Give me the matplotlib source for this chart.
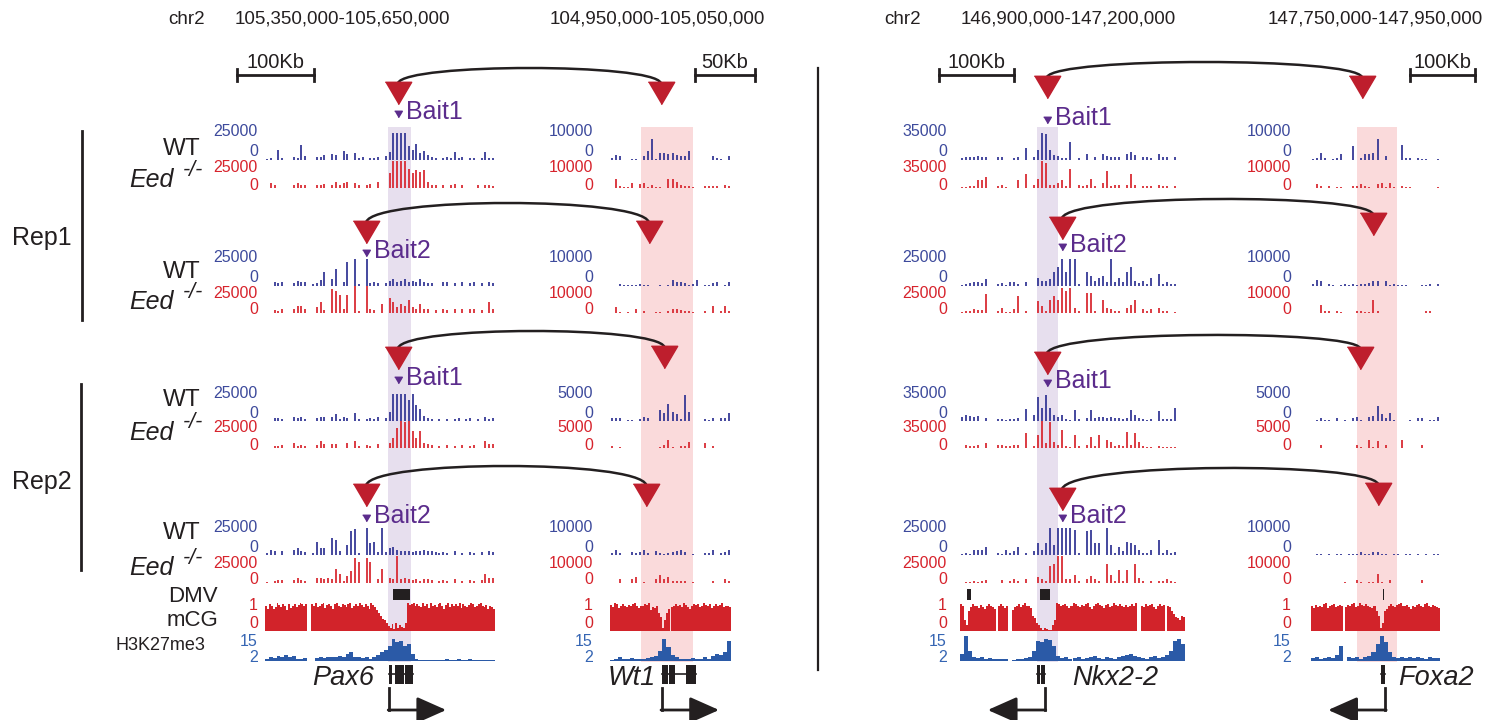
import numpy as np
import matplotlib.pyplot as plt
import matplotlib.transforms as mtransforms
from matplotlib.path import Path
from matplotlib.patches import PathPatch, Rectangle

plt.rcParams["font.family"] = ["Liberation Sans", "DejaVu Sans"]

W, H = 1506, 720

# genomic windows (kb, chr2)
win_pax6 = (105350, 105650)
win_wt1 = (104950, 105050)
win_nkx = (146900, 147200)
win_foxa = (147750, 147950)

# virtual 4C signal, % of the track range (bins across each window)
wt_pax6_r1b1 = [2,6,0,36,6,0,0,10,6,55, 13,0,0,10,10,19,0,23,19,0, 32,23,0,26,6,10,0,6,6,10,
                0,13,28,100,100,100,100,51,36,58, 26,32,19,10,6,0,6,10,6,28, 6,10,0,6,6,0,6,28,6,6]
eed_pax6_r1b1 = [0,18,12,0,0,0,0,10,18,12, 10,0,0,10,12,14,0,12,22,10, 18,22,0,18,10,0,10,14,0,24,
                 0,0,54,100,100,100,100,72,54,66, 60,66,24,12,12,0,10,0,10,14, 0,12,0,0,0,10,0,10,12,6]
wt_pax6_r1b2 = [0,0,15,10,13,0,0,10,19,15, 13,0,6,10,23,50,0,25,63,0, 13,88,0,100,6,0,100,10,13,10,
                0,10,19,25,15,19,25,15,19,13, 25,15,10,10,0,0,13,15,0,10, 0,13,0,10,13,0,10,0,15,10]
eed_pax6_r1b2 = [0,0,11,7,16,0,0,14,27,25, 16,0,0,21,41,11,0,89,82,68, 14,68,0,100,7,0,99,14,11,0,
                 34,0,55,41,21,34,27,48,21,16, 34,14,16,0,11,0,16,11,0,16, 0,14,0,16,14,0,11,0,41,16]
wt_pax6_r2b1 = [0,0,10,10,6,0,0,13,10,13, 6,0,0,10,13,13,0,15,26,6, 13,10,0,28,6,0,6,10,6,13,
                0,10,32,100,100,100,100,77,100,58, 45,19,10,6,0,6,0,6,0,6, 10,0,6,10,0,6,0,13,6,10]
eed_pax6_r2b1 = [0,0,6,6,10,0,0,19,6,10, 6,0,0,10,25,15,0,13,15,0, 0,19,0,25,6,0,10,6,0,13,
                 0,0,19,38,75,100,98,100,63,38, 63,19,13,10,0,6,0,10,0,6, 0,10,0,6,10,0,0,25,13,13]
wt_pax6_r2b2 = [6,19,15,0,13,0,0,19,25,13, 10,0,6,50,25,25,0,63,56,13, 0,38,88,98,6,0,100,44,50,10,
                100,10,25,31,19,13,15,13,10,13, 15,19,15,13,10,6,10,6,0,13, 0,6,0,10,6,0,10,0,13,10]
eed_pax6_r2b2 = [4,0,6,10,10,0,0,10,19,10, 6,0,0,19,19,13,19,13,52,32, 6,26,45,91,78,0,91,78,0,13,
                 52,0,19,13,100,13,19,13,10,13, 6,13,13,10,0,6,10,6,0,13, 0,6,0,10,6,0,10,32,19,19]

wt_wt1_r1b1 = [9,19,16,0,0,5,5,0,16,32, 78,5,27,27,22,27,19,16,13,32, 0,0,0,0,0,16,9,5,0,13]
eed_wt1_r1b1 = [0,34,6,3,3,17,0,14,17,3, 11,3,3,0,34,34,23,11,9,6, 3,0,0,9,9,6,6,0,11,6]
wt_wt1_r1b2 = [0,0,8,5,3,3,5,8,5,5, 0,0,3,0,5,21,16,13,11,5, 8,21,0,5,5,11,16,0,5,13]
eed_wt1_r1b2 = [0,21,4,0,4,0,16,0,7,0, 0,4,4,0,7,14,16,11,7,7, 4,0,0,7,0,25,0,7,25,7]
wt_wt1_r2b1 = [12,12,12,0,3,3,0,9,14,12, 0,0,41,29,64,35,25,6,95,35, 0,0,0,6,3,12,0,12,12,29]
eed_wt1_r2b1 = [6,0,4,0,0,0,0,0,0,0, 0,0,4,10,28,4,0,6,6,23, 0,0,0,19,0,6,0,0,0,0]
wt_wt1_r2b2 = [6,18,6,0,0,12,9,12,18,6, 0,14,6,4,6,12,14,18,12,0, 4,0,0,9,9,18,0,6,12,18]
eed_wt1_r2b2 = [0,0,15,0,0,15,23,0,4,0, 0,13,28,13,23,6,6,6,6,0, 4,0,0,0,0,6,0,0,15,6]

wt_nkx_r1b1 = [6,10,10,12,14,12,12,0,0,10, 12,0,0,6,10,0,45,0,12,36, 100,95,36,18,14,6,6,65,0,6,
               0,24,0,12,0,21,14,10,12,12, 0,24,30,18,0,10,10,6,0,24, 10,10,0,12,0,0]
eed_nkx_r1b1 = [3,3,6,6,29,29,40,0,0,6, 11,3,0,0,29,0,52,0,11,34, 100,92,11,11,17,29,6,71,0,11,
                6,11,34,6,0,17,63,9,11,11, 0,11,52,11,0,6,6,6,0,11, 6,6,0,6,0,0]
wt_nkx_r1b2 = [4,6,10,13,15,10,25,0,0,6, 10,4,15,15,6,0,15,0,0,31, 19,19,25,50,69,100,50,100,100,6,
               0,50,38,19,31,38,13,100,15,31, 13,50,69,19,10,19,6,31,0,44, 6,13,6,6,0,0]
eed_nkx_r1b2 = [4,6,6,13,10,10,69,0,0,6, 19,4,4,13,63,0,6,0,0,44, 25,6,50,63,50,94,81,94,19,6,
                0,75,75,6,0,50,19,13,6,6, 0,19,31,50,0,13,6,13,0,19, 6,6,0,4,0,0]
wt_nkx_r2b1 = [14,22,18,14,18,0,12,0,0,6, 6,4,6,6,12,0,46,0,24,90, 48,96,48,24,14,24,6,4,42,6,
               0,12,42,12,14,14,12,14,10,10, 6,12,42,24,12,6,4,6,0,36, 6,6,6,48,0,0]
eed_nkx_r2b1 = [0,10,6,6,10,0,18,0,0,10, 12,6,6,10,12,0,54,0,6,48, 100,18,96,24,10,66,6,4,48,6,
                0,12,42,6,48,0,30,24,6,12, 6,60,12,54,24,6,4,4,0,6, 4,4,4,4,0,0]
wt_nkx_r2b2 = [4,6,4,19,19,19,31,0,0,6, 4,19,6,13,31,0,6,0,15,44, 19,44,100,38,100,100,100,100,94,6,
               0,88,94,44,44,0,100,38,6,31, 13,50,44,38,19,6,6,19,0,56, 6,19,6,10,0,0]
eed_nkx_r2b2 = [0,4,4,6,4,6,10,0,0,0, 10,0,6,13,6,0,13,0,0,23, 13,6,63,69,100,100,13,13,31,6,
                0,13,25,13,6,0,69,31,6,50, 6,50,0,69,19,6,0,6,0,6, 6,13,6,4,0,0]

wt_foxa_r1b1 = [4,7,27,7,0,4,7,21,0,0, 52,0,7,21,21,27,79,0,14,0, 0,0,55,7,7,0,7,4,4,0, 0,4]
eed_foxa_r1b1 = [0,13,8,0,8,0,5,5,0,0, 8,8,13,8,5,0,13,17,5,17, 5,0,8,5,5,0,0,0,0,0, 0,5]
wt_foxa_r1b2 = [6,23,17,0,6,3,0,3,6,3, 6,3,6,9,11,17,17,0,17,3, 6,3,3,3,0,0,0,3,3,6, 0,9]
eed_foxa_r1b2 = [0,0,30,8,8,0,8,5,0,0, 0,8,8,5,5,47,8,0,0,0, 0,0,0,0,0,0,0,0,8,8, 0,0]
wt_foxa_r2b1 = [0,5,10,5,5,0,10,0,5,0, 10,15,5,0,15,20,55,25,10,30, 5,0,0,0,5,0,10,10,0,5, 5,15]
eed_foxa_r2b1 = [0,0,10,0,0,0,0,0,0,0, 0,10,5,0,30,5,25,0,10,0, 0,0,30,0,0,0,0,10,0,0, 0,0]
wt_foxa_r2b2 = [0,5,5,0,5,0,5,5,0,5, 5,5,10,5,5,10,10,5,5,0, 5,5,0,5,5,0,5,0,5,0, 5,5]
eed_foxa_r2b2 = [0,0,0,0,0,0,0,0,5,0, 0,10,5,0,5,5,35,5,0,10, 0,0,0,0,0,0,0,10,0,0, 0,0]

# CpG methylation (%) and H3K27me3 (% of 2-15 range)
mcg_pax6 = [88,80,95,90,78,85,100,92,85,95, 88,75,95,82,90,98,86,92,100,95,
            90,95,0,0,95,88,100,84,90,95, 100,82,92,96,88,80,95,100,90,85,
            98,92,86,95,100,82,90,96,88,100, 92,85,95,88,80,100,92,86,75,65,
            55,42,40,30,18,12,25,8,30,10, 20,15,10,28,100,92,95,100,88,96,
            90,84,100,88,95,82,100,90,92,86, 95,100,88,80,92,100,86,95,90,98,
            88,100,82,95,90,86,92,100,95,84, 88,96,100,90,86,92,80,90,85,78]
h3_pax6 = [10,15,12,20,15,25,15,20,10,8, 12,0,0,12,15,12,15,18,15,20, 18,30,35,15,18,12,15,10,15,25,
           35,45,60,90,75,80,60,70,30,8, 5,6,5,5,6,5,5,8,5,5, 10,5,5,8,5,5,6,5,5,5]
mcg_wt1 = [92,85,100,95,82,90,96,88,85,92, 90,95,100,88,82,90,88,95,92,100,
           75,85,82,90,65,50,12,40,65,78, 85,90,95,88,92,86,100,92,85,80,
           90,95,92,98,85,90,100,92,88,95, 82,90,95,88,92,100,85,88,90,86]
h3_wt1 = [5,10,15,8,10,12,8,10,10,12, 15,20,40,90,55,25,15,10,8,10, 12,10,8,15,10,20,30,25,35,80]
mcg_nkx = [95,88,40,20,70,85,95,90,88,82, 92,85,80,90,95,88,86,80,0,90,
           95,88,82,90,0,0,75,85,90,95, 85,92,100,90,88,82,55,45,30,20,
           10,5,12,8,5,3,20,40,100,95, 88,92,98,90,82,88,100,95,90,85,
           92,88,96,100,85,80,90,95,100,92, 88,82,92,96,85,90,100,92,88,95,
           90,86,92,84,88,95,90,100,0,0, 90,85,95,88,92,96,85,80,90,95,
           88,92,0,90,85,70,60,50,45,40, 55,50]
h3_nkx = [30,100,40,15,12,15,10,12,10,8, 10,8,0,5,8,10,12,15,40,80, 75,90,85,60,20,12,15,10,12,15,
          10,12,15,20,12,10,15,12,10,15, 20,25,30,20,15,12,10,15,20,12, 15,25,40,80,90,70]
mcg_foxa = [88,82,92,86,90,85,95,100,82,88, 92,96,85,90,92,88,0,85,92,88,
            95,100,85,90,100,92,88,95,90,85, 82,88,70,55,10,30,70,80,88,95,
            90,85,92,96,100,90,88,92,85,80, 90,86,92,95,88,84,95,100,90,86,
            92,88,85,82]
h3_foxa = [12,15,10,12,15,12,25,60,0,15, 12,15,10,18,20,35,70,100,75,35, 15,12,15,12,18,12,15,12,10,15, 12,12]

# track scale maxima per block (Rep1-Bait1, Rep1-Bait2, Rep2-Bait1, Rep2-Bait2)
max_pax6 = ["25000", "25000", "25000", "25000"]
max_wt1 = ["10000", "10000", "5000", "10000"]
max_nkx = ["35000", "25000", "35000", "25000"]
max_foxa = ["10000", "10000", "5000", "10000"]

# highlighted windows, DMVs and genes (kb)
band_pax6 = (105510, 105540)
band_wt1 = (104976, 105019)
band_nkx = (147002, 147031)
band_foxa = (147821, 147883)
dmv_pax6 = [(105517, 105539)]
dmv_nkx = [(146909, 146915), (147007, 147020)]
dmv_foxa = [(147861, 147863)]
exons_pax6 = [(105512, 105515), (105520, 105531), (105532, 105543)]
exons_wt1 = [(104993, 104998), (104999, 105004), (105013, 105021)]
exons_nkx = [(147003, 147007), (147008, 147013)]
exons_foxa = [(147858, 147864)]

# bait and target anchors per block (kb)
bait_left = [105523.5, 105482, 105523.5, 105482]
target_left = [104992, 104982, 104995, 104980]
bait_right = [147016, 147036, 147016, 147036]
target_right = [147829, 147846, 147826, 147854]
bait_names = ["Bait1", "Bait2", "Bait1", "Bait2"]

C_WT = "#2e3192"
C_WT_TXT = "#3d4a9c"
C_EED = "#d7232c"
C_MCG = "#d2232a"
C_H3 = "#2b5aa7"
C_H3_TXT = "#3565b3"
C_BAIT = "#5b2c8c"
C_TRI = "#be1e2d"
C_PURPLE = "#e7dfee"
C_PINK = "#fadadb"
C_INK = "#231f20"

fig = plt.figure(figsize=(W / 100, H / 100), dpi=100)
ov = fig.add_axes([0, 0, 1, 1], zorder=0)
ov.set_xlim(0, W)
ov.set_ylim(H, 0)
ov.axis("off")

wt_base = [160, 286, 421, 555]
eed_base = [188, 313, 448, 583]
TRACK_H = 27


def track_ax(x0, x1, base, h, win):
    ax = fig.add_axes([x0 / W, 1 - base / H, (x1 - x0) / W, h / H], zorder=2)
    ax.set_xlim(*win)
    ax.set_ylim(0, 100)
    ax.axis("off")
    return ax


def bin_centers(win, n):
    edges = np.linspace(win[0], win[1], n + 1)
    return (edges[:-1] + edges[1:]) / 2, (win[1] - win[0]) / n


def spikes(ax, win, vals, color):
    x, _ = bin_centers(win, len(vals))
    v = np.array(vals, dtype=float)
    keep = v > 0
    ax.vlines(x[keep], 0, v[keep], color=color, lw=1.25)


def filled(ax, win, vals, color):
    x, w = bin_centers(win, len(vals))
    ax.bar(x, vals, width=w, color=color, linewidth=0)


columns = [
    dict(win=win_pax6, x0=265, x1=495, lab=258, maxes=max_pax6,
         wt=[wt_pax6_r1b1, wt_pax6_r1b2, wt_pax6_r2b1, wt_pax6_r2b2],
         eed=[eed_pax6_r1b1, eed_pax6_r1b2, eed_pax6_r2b1, eed_pax6_r2b2],
         mcg=mcg_pax6, h3=h3_pax6, band=band_pax6, bc=C_PURPLE, dmv=dmv_pax6),
    dict(win=win_wt1, x0=610, x1=731, lab=593, maxes=max_wt1,
         wt=[wt_wt1_r1b1, wt_wt1_r1b2, wt_wt1_r2b1, wt_wt1_r2b2],
         eed=[eed_wt1_r1b1, eed_wt1_r1b2, eed_wt1_r2b1, eed_wt1_r2b2],
         mcg=mcg_wt1, h3=h3_wt1, band=band_wt1, bc=C_PINK, dmv=[]),
    dict(win=win_nkx, x0=960, x1=1185, lab=947, maxes=max_nkx,
         wt=[wt_nkx_r1b1, wt_nkx_r1b2, wt_nkx_r2b1, wt_nkx_r2b2],
         eed=[eed_nkx_r1b1, eed_nkx_r1b2, eed_nkx_r2b1, eed_nkx_r2b2],
         mcg=mcg_nkx, h3=h3_nkx, band=band_nkx, bc=C_PURPLE, dmv=dmv_nkx),
    dict(win=win_foxa, x0=1311, x1=1440, lab=1291, maxes=max_foxa,
         wt=[wt_foxa_r1b1, wt_foxa_r1b2, wt_foxa_r2b1, wt_foxa_r2b2],
         eed=[eed_foxa_r1b1, eed_foxa_r1b2, eed_foxa_r2b1, eed_foxa_r2b2],
         mcg=mcg_foxa, h3=h3_foxa, band=band_foxa, bc=C_PINK, dmv=dmv_foxa),
]

num_fs = 11.5
for col in columns:
    win = col["win"]
    for i in range(4):
        a = track_ax(col["x0"], col["x1"], wt_base[i], TRACK_H, win)
        spikes(a, win, col["wt"][i], C_WT)
        b = track_ax(col["x0"], col["x1"], eed_base[i], TRACK_H, win)
        spikes(b, win, col["eed"][i], C_EED)
        lx = col["lab"]
        ov.text(lx, wt_base[i] - 28, col["maxes"][i], color=C_WT_TXT, fontsize=num_fs, ha="right", va="center")
        ov.text(lx, wt_base[i] - 8, "0", color=C_WT_TXT, fontsize=num_fs, ha="right", va="center")
        ov.text(lx, eed_base[i] - 20, col["maxes"][i], color=C_EED, fontsize=num_fs, ha="right", va="center")
        ov.text(lx, eed_base[i] - 3, "0", color=C_EED, fontsize=num_fs, ha="right", va="center")
    m = track_ax(col["x0"], col["x1"], 631, 28, win)
    filled(m, win, col["mcg"], C_MCG)
    h = track_ax(col["x0"], col["x1"], 661, 25, win)
    filled(h, win, col["h3"], C_H3)
    col["ax"] = m
    col["bt"] = mtransforms.blended_transform_factory(m.transData, ov.transData)
    lx = col["lab"]
    ov.text(lx, 605, "1", color=C_MCG, fontsize=num_fs, ha="right", va="center")
    ov.text(lx, 624, "0", color=C_MCG, fontsize=num_fs, ha="right", va="center")
    ov.text(lx, 641, "15", color=C_H3_TXT, fontsize=num_fs, ha="right", va="center")
    ov.text(lx, 658, "2", color=C_H3_TXT, fontsize=num_fs, ha="right", va="center")
    # highlight band
    b0, b1 = col["band"]
    ov.add_patch(Rectangle((b0, 127), b1 - b0, 662 - 127, transform=col["bt"],
                           facecolor=col["bc"], edgecolor="none", zorder=0))
    for d0, d1 in col["dmv"]:
        ov.add_patch(Rectangle((d0, 589), d1 - d0, 11, transform=col["bt"],
                               facecolor=C_INK, edgecolor="none", zorder=3))


def to_px(ax, kb):
    disp = ax.transData.transform((kb, 0))
    return ov.transData.inverted().transform(disp)[0]


tri = [(-1, 0.85), (1, 0.85), (0, -0.85)]


def anchor(col, kb, y, size=19, color=C_TRI):
    ov.plot([kb], [y], marker=tri, ms=size, color=color, mec=color, transform=col["bt"],
            clip_on=False, zorder=5)


def arc(x1, y1, x2, y2, peak):
    yc = (peak - 0.125 * (y1 + y2)) / 0.75
    dx = x2 - x1
    verts = [(x1, y1), (x1 + 0.03 * dx, yc), (x2 - 0.03 * dx, yc), (x2, y2)]
    p = Path(verts, [Path.MOVETO, Path.CURVE4, Path.CURVE4, Path.CURVE4])
    ov.add_patch(PathPatch(p, fill=False, lw=1.8, edgecolor=C_INK, zorder=4))


panels = [
    dict(bait=columns[0], target=columns[1], bait_kb=bait_left, target_kb=target_left,
         tri_b=[93, 232, 358, 495], tri_t=[93, 232, 357, 495], peak=[68, 203, 331, 466],
         small=[114, 253, 380, 518]),
    dict(bait=columns[2], target=columns[3], bait_kb=bait_right, target_kb=target_right,
         tri_b=[87, 228, 363, 499], tri_t=[87, 224, 358, 494], peak=[62, 199, 335, 468],
         small=[120, 247, 383, 518]),
]

for p in panels:
    for i in range(4):
        anchor(p["bait"], p["bait_kb"][i], p["tri_b"][i])
        anchor(p["target"], p["target_kb"][i], p["tri_t"][i])
        x1 = to_px(p["bait"]["ax"], p["bait_kb"][i])
        x2 = to_px(p["target"]["ax"], p["target_kb"][i])
        arc(x1, p["tri_b"][i] - 10, x2, p["tri_t"][i] - 10, p["peak"][i])
        anchor(p["bait"], p["bait_kb"][i], p["small"][i], size=5.5, color=C_BAIT)
        ov.text(x1 + 8, p["small"][i] - 2, bait_names[i], color=C_BAIT, fontsize=18,
                ha="left", va="center", zorder=6)

# headers
hdr_fs = 13.5
ov.text(187, 19, "chr2", fontsize=hdr_fs, ha="center", va="center", color=C_INK)
ov.text(342, 19, "105,350,000-105,650,000", fontsize=hdr_fs, ha="center", va="center", color=C_INK)
ov.text(657, 19, "104,950,000-105,050,000", fontsize=hdr_fs, ha="center", va="center", color=C_INK)
ov.text(903, 19, "chr2", fontsize=hdr_fs, ha="center", va="center", color=C_INK)
ov.text(1068, 19, "146,900,000-147,200,000", fontsize=hdr_fs, ha="center", va="center", color=C_INK)
ov.text(1375, 19, "147,750,000-147,950,000", fontsize=hdr_fs, ha="center", va="center", color=C_INK)

# scale bars
scale_bars = [(0, 105314, 100, "100Kb"), (1, 105020, 50, "50Kb"),
              (2, 146872, 100, "100Kb"), (3, 147904, 100, "100Kb")]
for ci, start, length, lab in scale_bars:
    c = columns[ci]
    xa = to_px(c["ax"], start)
    xb = to_px(c["ax"], start + length)
    ov.plot([xa, xb], [75, 75], color=C_INK, lw=2)
    ov.plot([xa, xa], [69, 81], color=C_INK, lw=2)
    ov.plot([xb, xb], [69, 81], color=C_INK, lw=2)
    ov.text((xa + xb) / 2, 63, lab, fontsize=14.5, ha="center", va="center", color=C_INK)

# sample labels
wt_lab_y = [149, 272, 400, 533]
eed_lab_y = [180, 302, 433, 568]
for i in range(4):
    ov.text(201, wt_lab_y[i], "WT", fontsize=17.5, ha="right", va="center", color=C_INK)
    ov.text(174, eed_lab_y[i], "Eed", fontsize=18, style="italic", ha="right", va="center", color=C_INK)
    ov.text(203, eed_lab_y[i] - 10, "-/-", fontsize=15.5, style="italic", ha="right", va="center", color=C_INK)

ov.text(42, 238, "Rep1", fontsize=18, ha="center", va="center", color=C_INK)
ov.text(42, 482, "Rep2", fontsize=18, ha="center", va="center", color=C_INK)
ov.plot([82, 82], [131, 320], color=C_INK, lw=2)
ov.plot([81, 81], [384, 570], color=C_INK, lw=2)
ov.plot([818, 818], [68, 670], color=C_INK, lw=1.6)

ov.text(218, 597, "DMV", fontsize=16, ha="right", va="center", color=C_INK)
ov.text(218, 621, "mCG", fontsize=16, ha="right", va="center", color=C_INK)
ov.text(205, 645, "H3K27me3", fontsize=13, ha="right", va="center", color=C_INK)

# genes
genes = [
    dict(col=0, exons=exons_pax6, name="Pax6", tss=105512, direction=1, name_x=343),
    dict(col=1, exons=exons_wt1, name="Wt1", tss=104993, direction=1, name_x=632),
    dict(col=2, exons=exons_nkx, name="Nkx2-2", tss=147013, direction=-1, name_x=1115),
    dict(col=3, exons=exons_foxa, name="Foxa2", tss=147865, direction=-1, name_x=1436),
]
for g in genes:
    c = columns[g["col"]]
    e0 = g["exons"][0][0]
    e1 = g["exons"][-1][1]
    ov.plot([e0, e1], [674, 674], color=C_INK, lw=1.2, transform=c["bt"])
    for s, e in g["exons"]:
        ov.add_patch(Rectangle((s, 665), e - s, 19, transform=c["bt"], facecolor=C_INK, edgecolor="none"))
    xt = to_px(c["ax"], g["tss"])
    ov.plot([xt, xt], [688, 710], color=C_INK, lw=2)
    ov.annotate("", xy=(xt + g["direction"] * 57, 710), xytext=(xt - g["direction"] * 1, 710),
                arrowprops=dict(arrowstyle="-|>,head_length=0.9,head_width=0.4", lw=2,
                                color=C_INK, shrinkA=0, shrinkB=0, mutation_scale=20))
    ov.text(g["name_x"], 678, g["name"], fontsize=19.5, style="italic", ha="center", va="center", color=C_INK)

fig.savefig("out.png", dpi=100, facecolor="white")
